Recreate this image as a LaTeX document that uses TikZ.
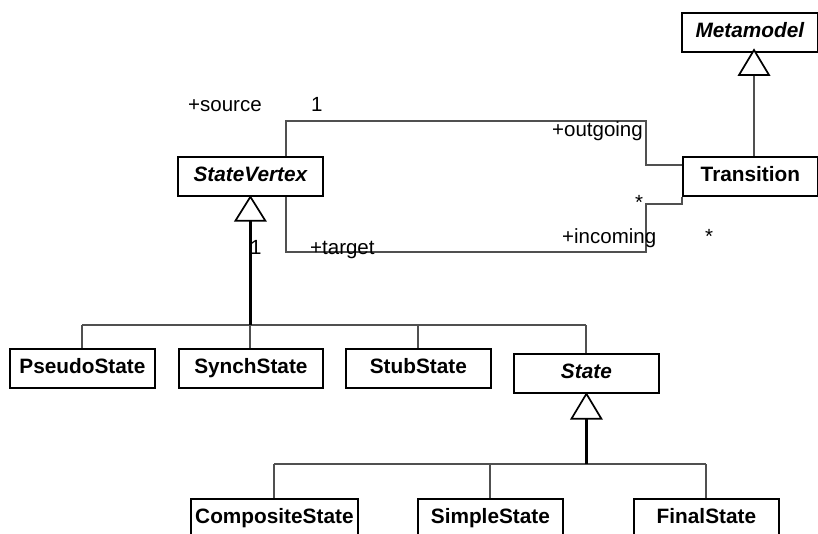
\documentclass[tikz,border=0pt]{standalone}
\usepackage{fontspec}
\setmainfont{Liberation Sans}
\usetikzlibrary{calc}
\definecolor{conncol}{RGB}{80,80,80}
\begin{document}
\begin{tikzpicture}[x=1pt,y=-1pt,
  cls/.style={draw=black,line width=1.8pt,fill=white,anchor=north west,
    minimum height=39pt,inner xsep=1pt,inner ysep=0pt,
    text height=14.6pt,text depth=4pt,
    font=\fontsize{20.8}{24}\selectfont\bfseries},
  abs/.style={cls,font=\fontsize{20.8}{24}\selectfont\bfseries\itshape},
  conn/.style={draw=conncol,line width=1.1pt},
  genline/.style={draw=black,line width=2.2pt},
  gentri/.style={draw=black,line width=1.7pt,fill=white,line join=miter},
  lbl/.style={anchor=base west,inner sep=0pt,font=\fontsize{20.5}{24}\selectfont}
]
\clip (0,0) rectangle (818,533);
\fill[white] (0,0) rectangle (818,533);

% classes
\node[abs,minimum width=136pt] (meta) at (681,12) {Metamodel};
\node[cls,minimum width=135pt] (trans) at (682,156) {Transition};
\node[abs,minimum width=145pt] (sv) at (177,156) {StateVertex};
\node[cls,minimum width=145pt] (pseudo) at (9,348) {PseudoState};
\node[cls,minimum width=144pt] (synch) at (178,348) {SynchState};
\node[cls,minimum width=145pt] (stub) at (345,348) {StubState};
\node[abs,minimum width=145pt] (state) at (513,353) {State};
\node[cls,minimum width=167pt] (comp) at (190,498) {CompositeState};
\node[cls,minimum width=145pt] (simple) at (417,498) {SimpleState};
\node[cls,minimum width=145pt] (final) at (633,498) {FinalState};

% association routes
\coordinate (o1) at (646,165);
\coordinate (o2) at (646,121);
\coordinate (o3) at (286,121);
\coordinate (i1) at (682,204);
\coordinate (i2) at (646,204);
\coordinate (i3) at (646,252);
\coordinate (i4) at (286,252);
\draw[conn] (trans.west |- o1) -- (o1) -- (o2) -- (o3) -- (o3 |- sv.north);
\draw[conn] (trans.south west) -- (i1) -- (i2) -- (i3) -- (i4) -- (i4 |- sv.south);

% Metamodel generalization
\coordinate (mt) at (754,50);
\draw[conn] (754,75) -- (754,0 |- trans.north);
\draw[gentri] (mt) -- ++(-15,25) -- ++(30,0) -- cycle;

% StateVertex generalization
\coordinate (b1) at (250,325);
\draw[conn] (82,325) -- (586,325);
\draw[conn] (82,325) -- (82,0 |- pseudo.north);
\draw[conn] (250,325) -- (250,0 |- synch.north);
\draw[conn] (418,325) -- (418,0 |- stub.north);
\draw[conn] (586,325) -- (586,0 |- state.north);
\draw[genline] ($(sv.south)+(0,24)$) -- (sv.south |- b1);
\draw[gentri] (sv.south) -- ++(-15,24) -- ++(30,0) -- cycle;

% State generalization
\coordinate (b2) at (586,464);
\draw[conn] (274,464) -- (706,464);
\draw[conn] (274,464) -- (274,0 |- comp.north);
\draw[conn] (490,464) -- (490,0 |- simple.north);
\draw[conn] (706,464) -- (706,0 |- final.north);
\draw[genline] ($(state.south)+(0,25)$) -- (state.south |- b2);
\draw[gentri] (state.south) -- ++(-15,25) -- ++(30,0) -- cycle;

% labels
\node[lbl] (l1) at (188,111) {+source};
\node[lbl] (l2) at (311,111) {1};
\node[lbl,anchor=base east] (l3) at (643,136) {+outgoing};
\node[lbl,anchor=base] (l4) at (639,209) {*};
\node[lbl] (l5) at (562,243) {+incoming};
\node[lbl,anchor=base] (l6) at (709,243) {*};
\node[lbl] (l7) at (310,254) {+target};
\node[lbl] (l8) at (250,254) {1};
\end{tikzpicture}
\end{document}
